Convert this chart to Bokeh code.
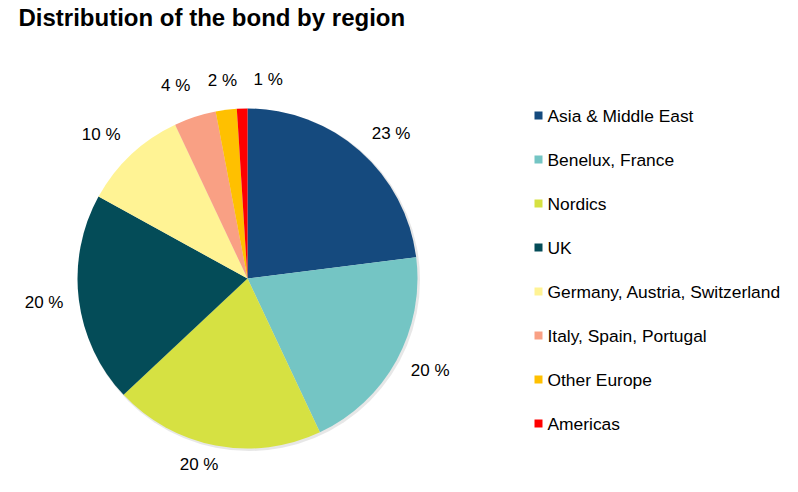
import numpy as np
from bokeh.plotting import figure
from bokeh.models import Range1d, ColumnDataSource
from bokeh.embed import file_html
from bokeh.resources import INLINE
from bokeh.core.properties import value

# ---- data ----
title_text = "Distribution of the bond by region"
regions = ["Asia & Middle East", "Benelux, France", "Nordics", "UK",
           "Germany, Austria, Switzerland", "Italy, Spain, Portugal",
           "Other Europe", "Americas"]
shares = [23, 20, 20, 20, 10, 4, 2, 1]
colors = ["#154A7E", "#74C5C4", "#D6E142", "#044C58",
          "#FFF394", "#F9A084", "#FFC000", "#FF0000"]
label_texts = [f"{s} %" for s in shares]

# ---- layout ----
W, H = 782, 476
FONT = "Liberation Sans"


def px(x):
    return x


def py(y):
    return H - y


p = figure(width=W, height=H, x_range=Range1d(0, W), y_range=Range1d(0, H),
           output_backend="svg", toolbar_location=None, min_border=0)
p.axis.visible = False
p.grid.visible = False
p.outline_line_color = None
p.background_fill_color = "white"
p.border_fill_color = "white"

cx, cy, R = px(247), py(278), 170

frac = np.array(shares, dtype=float) / sum(shares)
cum = np.concatenate([[0.0], np.cumsum(frac)])
start = np.pi / 2 - cum[1:] * 2 * np.pi
end = np.pi / 2 - cum[:-1] * 2 * np.pi

# faint shadow
p.circle(x=[cx + 1.5], y=[cy - 1.5], radius=R + 1, radius_units="screen",
         fill_color="#A0A0A0", fill_alpha=0.25, line_color=None)

src = ColumnDataSource(dict(region=regions, start=start, end=end, color=colors,
                            x=[cx] * len(shares), y=[cy] * len(shares)))
p.wedge(x="x", y="y", radius=R, radius_units="screen", start_angle="start",
        end_angle="end", direction="anticlock", fill_color="color",
        line_color=None, source=src)

# data labels, outside end
theta = (cum[:-1] + cum[1:]) / 2 * 2 * np.pi  # clockwise from top
hw = np.array([5 * len(t.replace(" %", "")) + 10 for t in label_texts], dtype=float)
lx = cx + (185 + hw) * np.sin(theta)
ly = cy + 192 * np.cos(theta)
nudge_x = np.array([8, 3, -10, 0, -6, -10, 0, 27], dtype=float)
nudge_y = np.array([1, 0, 3, 0, 4, 10, 8, 7], dtype=float)
lx = lx + nudge_x
ly = ly + nudge_y
p.text(x=lx, y=ly, text=label_texts, text_align="center",
       text_baseline="middle", text_font=value(FONT),
       text_font_size="17px", text_color="#000000")

# legend
n = len(regions)
leg_y = np.array([py(115 + 44 * i) for i in range(n)], dtype=float)
p.scatter(x=[px(538)] * n, y=leg_y, marker="square", size=8,
          fill_color=colors, line_color=None)
p.text(x=[px(547)] * n, y=leg_y, text=regions, text_align="left",
       text_baseline="middle", text_font=value(FONT),
       text_font_size="17.4px", text_color="#000000")

# title
p.text(x=[px(18)], y=[py(17)], text=[title_text], text_align="left",
       text_baseline="alphabetic", text_font=value(FONT),
       text_font_size="24px", text_font_style="bold", text_color="#000000")

open("out.html", "w").write(file_html(p, INLINE))
